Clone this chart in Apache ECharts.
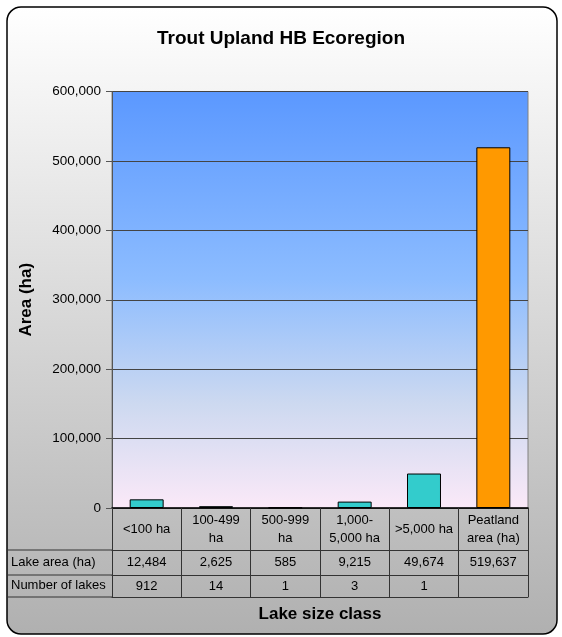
<!DOCTYPE html>
<html>
<head>
<meta charset="utf-8">
<script src="https://cdn.jsdelivr.net/npm/echarts@6/dist/echarts.min.js"></script>
<style>
html,body{margin:0;padding:0;background:#fff;}
#chart{width:562px;height:637px;}
</style>
</head>
<body>
<div id="chart"></div>
<script>
var titleText = 'Trout Upland HB Ecoregion';
var categories = ['<100 ha', '100-499\nha', '500-999\nha', '1,000-\n5,000 ha', '>5,000 ha', 'Peatland\narea (ha)'];
var areaValues = [12484, 2625, 585, 9215, 49674, 519637];
var lakeCounts = ['912', '14', '1', '3', '1', ''];
var rowLabels = ['Lake area (ha)', 'Number of lakes'];
var yAxisName = 'Area (ha)';
var xAxisName = 'Lake size class';
var yMin = 0, yMax = 600000, yInterval = 100000;

var FONT = '"Liberation Sans", Arial, sans-serif';
var GL = 112, GT = 91.5, GW = 416, GH = 416.5;
var GB = GT + GH;
var chart = echarts.init(document.getElementById('chart'), null, {renderer: 'canvas'});

function fmt(v) { return v.toLocaleString('en-US'); }

var tableLine = {color: '#333', width: 1};
var option = {
  animation: false,
  title: {
    text: titleText, left: 'center', top: 24,
    textStyle: {fontFamily: FONT, fontSize: 19, fontWeight: 'bold', color: '#000'}
  },
  graphic: [
    {type: 'rect', z: -10, shape: {x: 7, y: 7, width: 550, height: 627, r: 14},
     style: {fill: new echarts.graphic.LinearGradient(0, 0, 0, 1, [
       {offset: 0, color: '#ffffff'}, {offset: 1, color: '#b0b0b0'}]),
       stroke: '#000', lineWidth: 1.5}},
    {type: 'line', shape: {x1: 7, y1: GB + 42, x2: GL, y2: GB + 42}, style: {stroke: '#333', lineWidth: 1}},
    {type: 'line', shape: {x1: 7, y1: GB + 67, x2: GL, y2: GB + 67}, style: {stroke: '#333', lineWidth: 1}},
    {type: 'line', shape: {x1: 7, y1: GB + 89, x2: GL, y2: GB + 89}, style: {stroke: '#333', lineWidth: 1}},
    {type: 'text', left: 11, top: GB + 55 - 7.5, style: {text: rowLabels[0], fontFamily: FONT, fontSize: 13, fill: '#000'}},
    {type: 'text', left: 11, top: GB + 78.5 - 7.5, style: {text: rowLabels[1], fontFamily: FONT, fontSize: 13, fill: '#000'}}
  ],
  grid: {
    left: GL, top: GT, width: GW, height: GH, show: true,
    backgroundColor: new echarts.graphic.LinearGradient(0, 0, 0, 1, [
      {offset: 0, color: '#5b98ff'},
      {offset: 0.45, color: '#8cbcff'},
      {offset: 0.75, color: '#cdd9f0'},
      {offset: 1, color: '#fbe9f8'}]),
    borderColor: '#808080', borderWidth: 1
  },
  xAxis: [
    {type: 'category', data: categories, gridIndex: 0, position: 'bottom',
     axisLine: {show: true, lineStyle: {color: '#000', width: 1.5}},
     axisTick: {show: true, interval: 0, length: 42, lineStyle: tableLine},
     axisLabel: {interval: 0, margin: 21, verticalAlign: 'middle', fontFamily: FONT, fontSize: 13, color: '#000', lineHeight: 18}},
    {type: 'category', data: areaValues.map(fmt), gridIndex: 0, position: 'bottom', offset: 42,
     axisLine: {show: true, lineStyle: tableLine},
     axisTick: {show: true, interval: 0, length: 25, lineStyle: tableLine},
     axisLabel: {interval: 0, margin: 12.5, verticalAlign: 'middle', fontFamily: FONT, fontSize: 13, color: '#000'}},
    {type: 'category', data: lakeCounts, gridIndex: 0, position: 'bottom', offset: 67,
     axisLine: {show: true, lineStyle: tableLine},
     axisTick: {show: true, interval: 0, length: 22, lineStyle: tableLine},
     axisLabel: {interval: 0, margin: 11, verticalAlign: 'middle', fontFamily: FONT, fontSize: 13, color: '#000'}},
    {type: 'category', data: categories, gridIndex: 0, position: 'bottom', offset: 89,
     axisLine: {show: true, lineStyle: tableLine},
     axisTick: {show: false}, axisLabel: {show: false},
     name: xAxisName, nameLocation: 'middle', nameGap: 9,
     nameTextStyle: {fontFamily: FONT, fontSize: 17, fontWeight: 'bold', color: '#000'}}
  ],
  yAxis: {
    type: 'value', min: yMin, max: yMax, interval: yInterval,
    name: yAxisName, nameLocation: 'middle', nameGap: 77, nameRotate: 90,
    nameTextStyle: {fontFamily: FONT, fontSize: 17, fontWeight: 'bold', color: '#000'},
    axisLine: {show: true, lineStyle: {color: '#555', width: 1}},
    axisTick: {show: true, length: 6, lineStyle: {color: '#555'}},
    axisLabel: {fontFamily: FONT, fontSize: 13.5, color: '#000', margin: 11, formatter: function (v) { return fmt(v); }},
    splitLine: {show: true, lineStyle: {color: '#444', width: 1}}
  },
  series: [{
    type: 'bar', data: areaValues, barWidth: '49%', xAxisIndex: 0,
    itemStyle: {
      color: function (p) { return p.dataIndex === areaValues.length - 1 ? '#ff9900' : '#33cccc'; },
      borderColor: '#000', borderWidth: 1
    }
  }]
};
chart.setOption(option);
</script>
</body>
</html>
